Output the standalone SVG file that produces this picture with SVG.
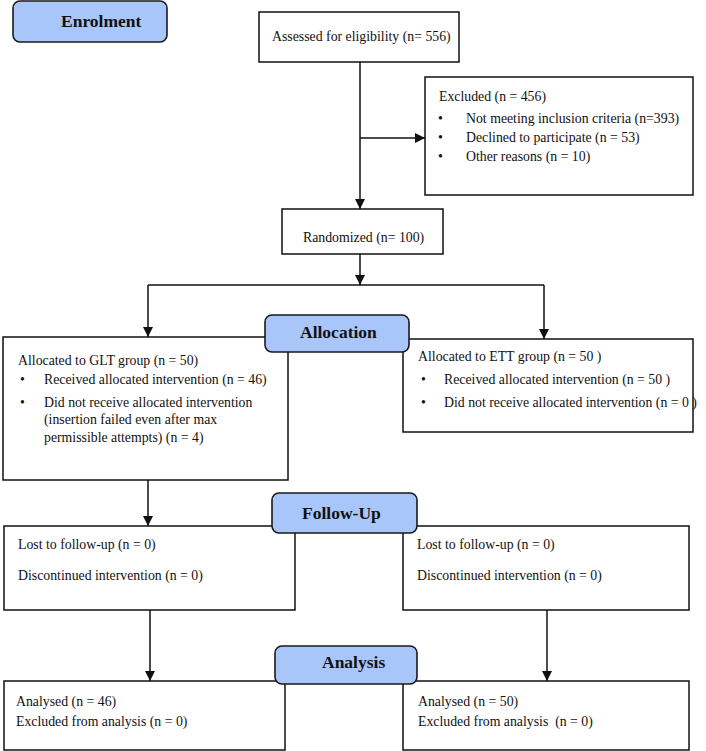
<svg xmlns="http://www.w3.org/2000/svg" width="706" height="751" viewBox="0 0 706 751">
<defs>
<style>
.box{fill:#fff;stroke:#111;stroke-width:1.5}
.stage{fill:#a9c6fb;stroke:#1a1a1a;stroke-width:1.6}
.t{font-family:"Liberation Serif","Times New Roman",serif;font-size:13.8px;fill:#111}
.h{font-family:"Liberation Serif","Times New Roman",serif;font-size:17.5px;font-weight:bold;fill:#111}
.ln{stroke:#111;stroke-width:1.5;fill:none}
</style>
<marker id="arr" viewBox="0 0 10 10" refX="10" refY="5" markerWidth="10" markerHeight="10" markerUnits="userSpaceOnUse" orient="auto">
<path d="M0,0 L10,5 L0,10 Z" fill="#111"/>
</marker>
</defs>
<rect width="706" height="751" fill="#fff"/>

<g id="connectors">
<line class="ln" x1="360" y1="62" x2="360" y2="209" marker-end="url(#arr)"/>
<line class="ln" x1="360" y1="138" x2="425" y2="138" marker-end="url(#arr)"/>
<line class="ln" x1="360" y1="254" x2="360" y2="285" marker-end="url(#arr)"/>
<line class="ln" x1="148" y1="285" x2="544" y2="285"/>
<line class="ln" x1="148" y1="285" x2="148" y2="337" marker-end="url(#arr)"/>
<line class="ln" x1="544" y1="285" x2="544" y2="339" marker-end="url(#arr)"/>
<line class="ln" x1="148" y1="480" x2="148" y2="526" marker-end="url(#arr)"/>
<line class="ln" x1="150" y1="610" x2="150" y2="681" marker-end="url(#arr)"/>
<line class="ln" x1="547" y1="610" x2="547" y2="681" marker-end="url(#arr)"/>
</g>

<g id="enrolment">
<rect class="stage" x="13" y="1" width="154" height="41" rx="7"/>
<text class="h" x="61" y="27">Enrolment</text>
</g>

<g id="assessed">
<rect class="box" x="259" y="12" width="200" height="50"/>
<text class="t" x="272" y="41">Assessed for eligibility (n= 556)</text>
</g>

<g id="excluded">
<rect class="box" x="425" y="77" width="268" height="118"/>
<text class="t" x="439" y="101">Excluded (n = 456)</text>
<text class="t" x="438" y="123">•</text><text class="t" x="466" y="123">Not meeting inclusion criteria (n=393)</text>
<text class="t" x="438" y="142">•</text><text class="t" x="466" y="142">Declined to participate (n = 53)</text>
<text class="t" x="438" y="161">•</text><text class="t" x="466" y="161">Other reasons (n = 10)</text>
</g>

<g id="randomized">
<rect class="box" x="282" y="209" width="161" height="45"/>
<text class="t" x="303" y="242">Randomized (n= 100)</text>
</g>

<g id="glt">
<rect class="box" x="3" y="337" width="285" height="143"/>
<text class="t" x="18" y="365">Allocated to GLT group (n = 50)</text>
<text class="t" x="20" y="384">•</text><text class="t" x="44" y="384">Received allocated intervention (n = 46)</text>
<text class="t" x="20" y="407">•</text><text class="t" x="44" y="407">Did not receive allocated intervention</text>
<text class="t" x="44" y="424">(insertion failed even after max</text>
<text class="t" x="44" y="442">permissible attempts) (n = 4)</text>
</g>

<g id="ett">
<rect class="box" x="403" y="339" width="290" height="93"/>
<text class="t" x="418" y="361">Allocated to ETT group (n = 50 )</text>
<text class="t" x="421" y="384">•</text><text class="t" x="444" y="384">Received allocated intervention (n = 50  )</text>
<text class="t" x="421" y="407">•</text><text class="t" x="444" y="407">Did not receive allocated intervention (n = 0 )</text>
</g>

<g id="allocation">
<rect class="stage" x="265" y="315" width="144" height="37" rx="7"/>
<text class="h" x="300" y="338">Allocation</text>
</g>

<g id="followup-glt">
<rect class="box" x="4" y="526" width="291" height="84"/>
<text class="t" x="18" y="549">Lost to follow-up (n = 0)</text>
<text class="t" x="18" y="580">Discontinued intervention (n = 0)</text>
</g>

<g id="followup-ett">
<rect class="box" x="403" y="526" width="286" height="84"/>
<text class="t" x="417" y="549">Lost to follow-up (n = 0)</text>
<text class="t" x="417" y="580">Discontinued intervention (n = 0)</text>
</g>

<g id="followup">
<rect class="stage" x="272" y="493" width="145" height="40" rx="7"/>
<text class="h" x="302" y="519">Follow-Up</text>
</g>

<g id="analysis-glt">
<rect class="box" x="4" y="681" width="281" height="69"/>
<text class="t" x="16" y="706">Analysed (n = 46)</text>
<text class="t" x="16" y="726">Excluded from analysis (n = 0)</text>
</g>

<g id="analysis-ett">
<rect class="box" x="403" y="681" width="286" height="69"/>
<text class="t" x="418" y="706">Analysed (n = 50)</text>
<text class="t" x="418" y="726" xml:space="preserve">Excluded from analysis  (n = 0)</text>
</g>

<g id="analysis">
<rect class="stage" x="275" y="646" width="142" height="38" rx="7"/>
<text class="h" x="322" y="668">Analysis</text>
</g>
</svg>
